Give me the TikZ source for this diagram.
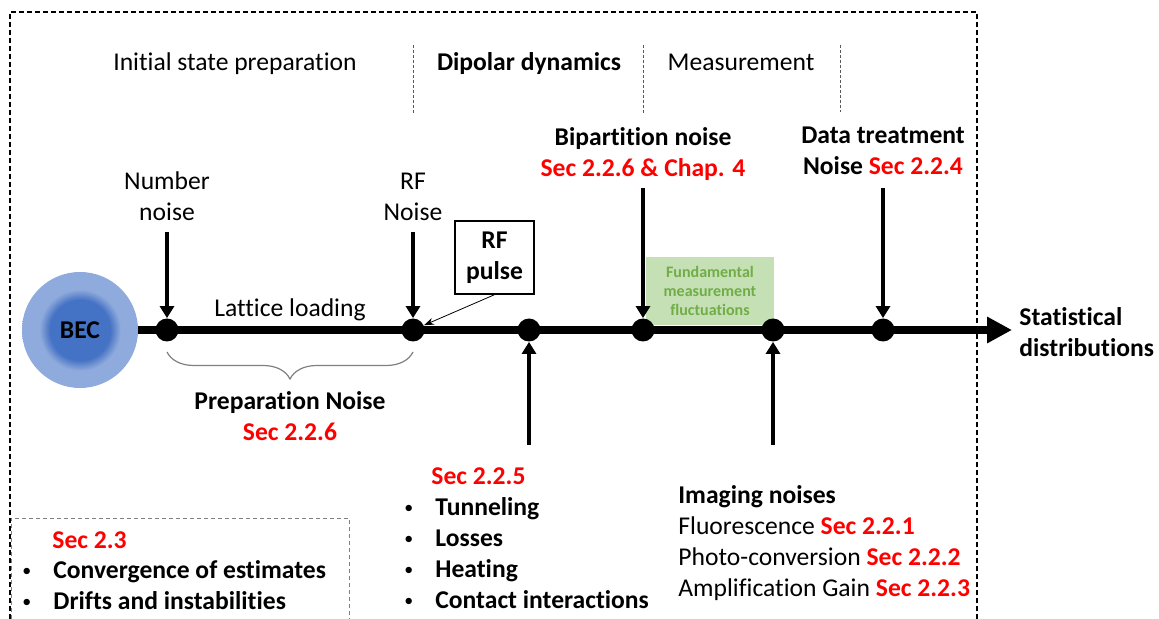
\documentclass[tikz,border=0pt]{standalone}
\usepackage{fontspec}
\setmainfont{Carlito}[Ligatures={NoCommon,NoContextual,NoRequired},Contextuals=NoAlternate]
\usetikzlibrary{arrows.meta,decorations.pathreplacing}

\definecolor{secred}{HTML}{FF0000}
\definecolor{beclight}{HTML}{8FAADC}
\definecolor{becdark}{HTML}{4472C4}
\definecolor{fundfill}{HTML}{C5E0B4}
\definecolor{fundtext}{HTML}{70AD47}
\pgfdeclareradialshading{becglow}{\pgfpoint{0bp}{0bp}}{color(0bp)=(becdark); color(13bp)=(becdark); color(17.5bp)=(beclight); color(25bp)=(beclight); color(50bp)=(beclight)}

\newcommand{\sect}[1]{\textcolor{secred}{\bfseries #1}}
\newcommand{\bul}{\makebox[15.5pt][l]{\raisebox{0.8pt}{\scalebox{0.7}{\textbullet}}}}

\begin{document}
\begin{tikzpicture}[x=0.5pt,y=-0.5pt,
	every node/.style={inner sep=0pt,font=\fontsize{12.8}{15.5}\selectfont},
	txt/.style={align=center},
	dot/.style={circle,fill=black,minimum size=11.5pt},
	noisearrow/.style={line width=2.2pt,-{Triangle[width=7pt,length=6pt]}},
	phasesep/.style={gray!70!black,line width=0.4pt,dash pattern=on 1.5pt off 1pt}]

	\useasboundingbox (0,0) rectangle (1159,619);

	% frames
	\draw[line width=0.6pt,dash pattern=on 2.5pt off 1.5pt] (10,619) -- (10,12) -- (977,12) -- (977,619);
	\draw[gray,line width=0.5pt,dash pattern=on 2pt off 1.5pt] (11,619) -- (11,518) -- (349,518) -- (349,619);

	% phases
	\node[anchor=base] (init) at (235,71) {Initial state preparation};
	\node[anchor=base] (dyn) at (529,71) {\textbf{Dipolar dynamics}};
	\node[anchor=base] (meas) at (741,71) {Measurement};
	\draw[phasesep] (413,45) -- (413,113);
	\draw[phasesep] (643,45) -- (643,113);
	\draw[phasesep] (840,45) -- (840,112);

	% timeline
	\node[fill=fundfill,minimum width=64pt,minimum height=34pt,text=fundtext,align=center,
		font=\fontsize{8}{9.5}\selectfont\bfseries] (fund) at (710,291) {Fundamental\\measurement\\fluctuations};
	\node[circle,minimum size=58pt,shading=becglow] (bec) at (80,330) {\textbf{BEC}};
	\coordinate (tip) at (1012,330);
	\draw[line width=4pt,-{Triangle[length=12.5pt,width=12.5pt]}] (bec.east) -- (tip);
	\foreach \x [count=\i] in {167,413,529,643,773,883}
		\node[dot] (d\i) at (\x,330) {};
	\node[anchor=west,align=left] (stat) at (1019,332.5) {\textbf{Statistical}\\\textbf{distributions}};

	% noise sources from above
	\node[txt] (numnoise) at (167,196.5) {Number\\noise};
	\node[txt] (rfnoise) at (413,196.5) {RF\\Noise};
	\node[txt] (bipart) at (643,154) {\textbf{Bipartition noise}\\\sect{Sec 2.2.6 \& Chap. 4}};
	\node[txt] (datatr) at (883,150.5) {\textbf{Data treatment}\\\textbf{Noise} \sect{Sec 2.2.4}};
	\coordinate (s1) at (167,232);
	\coordinate (s2) at (413,232);
	\coordinate (s4) at (643,188);
	\coordinate (s6) at (883,188);
	\draw[noisearrow] (s1) -- (d1);
	\draw[noisearrow] (s2) -- (d2);
	\draw[noisearrow] (s4) -- (d4);
	\draw[noisearrow] (s6) -- (d6);

	\node[draw,line width=0.7pt,minimum width=39.5pt,minimum height=36.5pt,txt] (rfpulse) at (494.5,257.5) {\textbf{RF}\\\textbf{pulse}};
	\draw[line width=0.4pt,-{Stealth[length=5pt,width=3.5pt]}] (rfpulse.south) -- (d2);
	\node[anchor=base] (lattice) at (290,317) {Lattice loading};

	% noise sources from below
	\coordinate (s3) at (529,445);
	\coordinate (s5) at (773,445);
	\draw[noisearrow] (s3) -- (d3);
	\draw[noisearrow] (s5) -- (d5);

	\draw[decorate,decoration={brace,mirror,amplitude=13.5pt},gray,line width=0.6pt] (167,352) -- (413,352);
	\node[txt] (prep) at (290,416) {\textbf{Preparation Noise}\\\sect{Sec 2.2.6}};

	\node[anchor=base west] (dynsec) at (431,484) {\sect{Sec 2.2.5}};
	\foreach \entry [count=\i] in {Tunneling,Losses,Heating,Contact interactions}
		\node[anchor=base west] (dynitem\i) at (404,484+31*\i) {\bul\textbf{\entry}};

	\node[anchor=base west] (imag) at (678,503) {\textbf{Imaging noises}};
	\foreach \name/\secno [count=\i] in {Fluorescence/2.2.1,Photo-conversion/2.2.2,Amplification Gain/2.2.3}
		\node[anchor=base west] (imagitem\i) at (678,503+31*\i) {\name{} \sect{Sec \secno}};

	\node[anchor=base west] (drsec) at (52,548) {\sect{Sec 2.3}};
	\node[anchor=base west] (drift1) at (22,578) {\bul\textbf{Convergence of estimates}};
	\node[anchor=base west] (drift2) at (22,609) {\bul\textbf{Drifts and instabilities}};
\end{tikzpicture}
\end{document}
